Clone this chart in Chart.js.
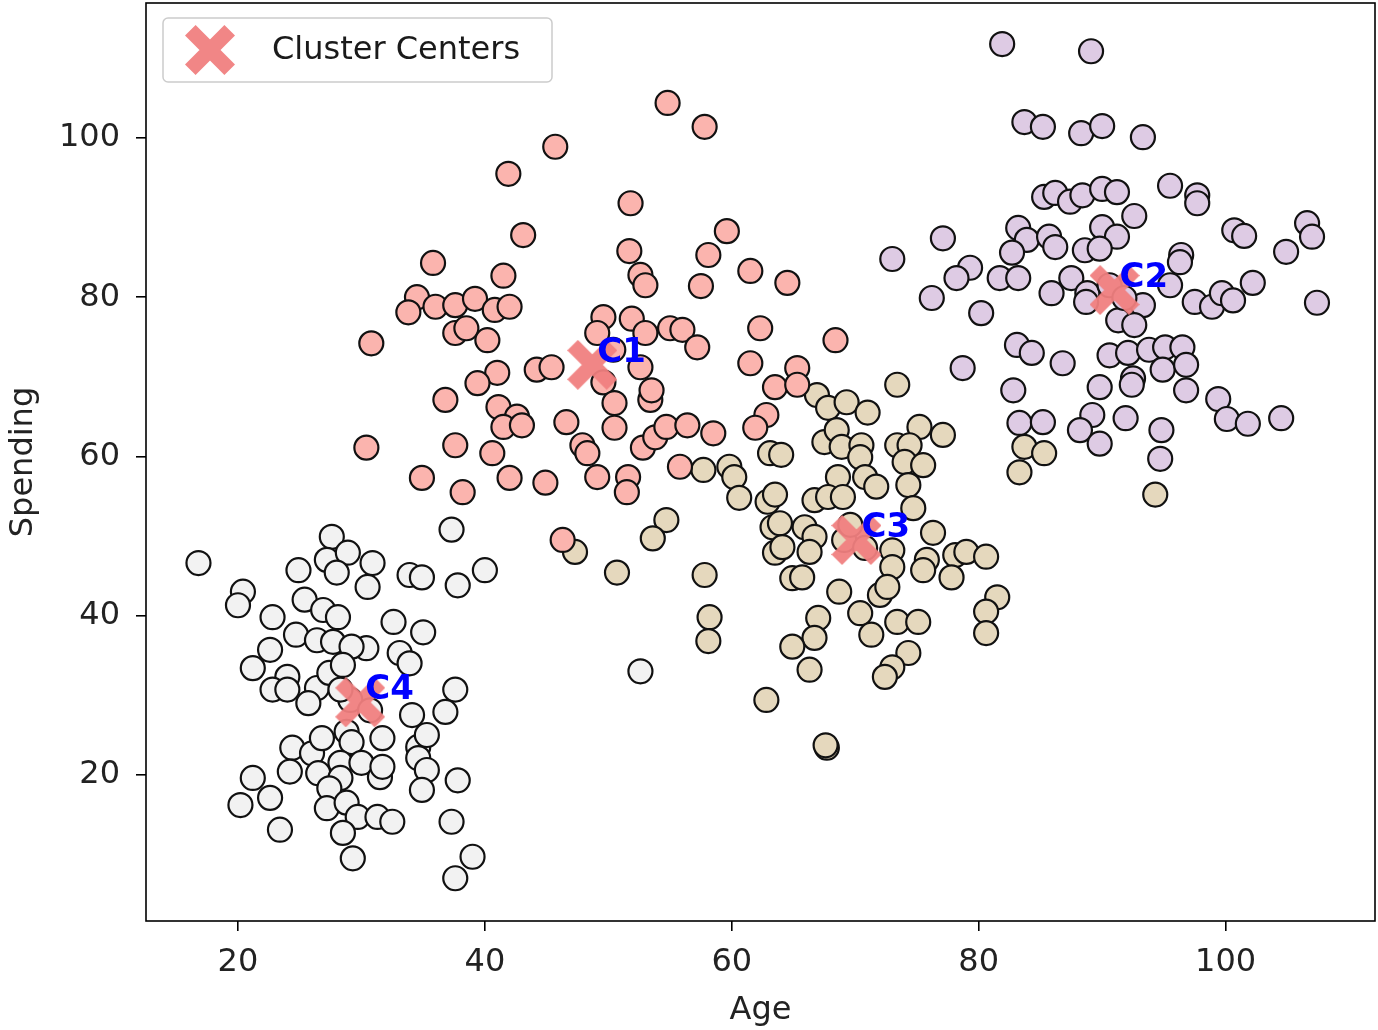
<!DOCTYPE html>
<html>
<head>
<meta charset="utf-8">
<script src="https://cdn.jsdelivr.net/npm/chart.js@4.4.1/dist/chart.umd.min.js"></script>
<style>
  html, body { margin: 0; padding: 0; background: #fff; }
  canvas { display: block; }
</style>
</head>
<body>
<canvas id="clusterChart" width="1378" height="1030"></canvas>
<script>
const FONT = '"DejaVu Sans", sans-serif';

// tick labels
const xTicks = [20, 40, 60, 80, 100];
const yTicks = [20, 40, 60, 80, 100];

// [age, spending] per cluster
const cluster1 = [
  [54.8,104.4],[57.8,101.4],[45.7,98.9],[41.9,95.5],[51.8,91.8],[43.1,87.8],[59.6,88.3],[51.7,85.8],
  [58.1,85.3],[41.5,82.7],[52.6,82.8],[53.0,81.5],[61.5,83.3],[57.5,81.4],[64.5,81.8],[35.8,84.3],
  [34.5,80.0],[33.8,78.1],[36.0,78.8],[37.6,79.0],[39.2,79.8],[40.8,78.4],[42.0,78.8],[37.6,75.5],
  [38.5,76.1],[30.8,74.2],[40.2,74.6],[49.6,77.5],[51.9,77.3],[55.0,76.1],[56.0,75.9],[57.2,73.7],
  [62.3,76.1],[49.1,75.5],[53.0,75.5],[68.4,74.6],[41.0,70.5],[39.4,69.2],[44.2,70.9],[45.4,71.2],
  [52.6,71.2],[50.4,73.4],[49.6,69.3],[50.5,66.7],[50.5,63.6],[53.4,67.1],[53.5,68.3],[41.1,66.2],
  [42.6,65.0],[41.5,63.7],[43.0,63.9],[46.6,64.3],[47.9,61.4],[48.3,60.4],[40.6,60.4],[42.0,57.3],
  [44.9,56.7],[49.1,57.4],[51.6,57.4],[51.5,55.5],[38.2,55.5],[52.8,61.1],[53.8,62.4],[54.7,63.7],
  [56.4,63.9],[58.5,62.9],[55.8,58.7],[61.5,71.7],[63.5,68.7],[62.8,65.2],[61.9,63.6],[65.3,71.1],
  [65.3,69.0],[46.3,49.5],[36.8,67.1],[30.4,61.1],[37.6,61.4],[34.9,57.3]
];
const cluster2 = [
  [81.9,111.8],[89.1,110.9],[83.7,102.0],[85.2,101.4],[88.3,100.6],[90.0,101.5],[93.3,100.1],[85.3,92.6],
  [86.2,93.1],[87.4,92.0],[88.4,92.8],[90.0,93.6],[91.2,93.2],[95.5,94.0],[97.7,92.8],[97.7,91.8],
  [92.6,90.2],[77.1,87.4],[73.0,84.8],[83.2,88.7],[83.9,87.2],[85.7,87.6],[86.2,86.3],[82.7,85.6],
  [79.3,83.7],[78.2,82.4],[81.7,82.4],[83.2,82.4],[87.5,82.4],[85.9,80.5],[76.2,79.9],[80.2,78.0],
  [90.0,88.8],[91.2,87.6],[88.6,85.9],[89.8,86.1],[96.4,85.3],[96.3,84.4],[100.7,88.4],[101.5,87.7],
  [104.9,85.7],[106.6,89.3],[107.0,87.6],[88.8,80.5],[88.7,79.4],[95.5,81.5],[93.3,79.0],[97.5,79.4],
  [98.9,78.8],[99.7,80.5],[100.6,79.6],[102.2,81.8],[107.4,79.3],[91.3,77.1],[92.6,76.5],[90.6,72.7],
  [92.1,73.0],[93.8,73.4],[95.1,73.7],[96.5,73.7],[86.8,71.7],[89.8,68.7],[92.5,69.8],[92.4,69.0],
  [94.9,70.9],[96.8,71.5],[96.8,68.3],[99.4,67.2],[100.1,64.7],[101.8,64.1],[104.5,64.8],[89.2,65.2],
  [88.2,63.3],[89.8,61.6],[91.9,64.8],[94.8,63.3],[94.7,59.7],[78.7,71.1],[83.1,74.0],[84.3,73.0],
  [82.8,68.3],[83.3,64.2],[85.2,64.3],[90.6,81.5],[91.8,79.9]
];
const cluster3 = [
  [57.7,58.3],[59.8,58.7],[60.2,57.4],[60.6,54.8],[63.1,60.4],[62.9,54.3],[63.5,55.2],[63.3,51.1],
  [63.5,47.9],[54.7,52.0],[53.6,49.7],[47.3,48.0],[50.7,45.4],[57.8,45.1],[58.2,39.8],[58.1,36.8],
  [62.8,29.4],[73.4,69.0],[66.9,67.7],[67.8,66.1],[69.3,66.8],[71.0,65.5],[83.7,61.2],[85.3,60.4],
  [83.3,58.0],[75.2,63.7],[77.1,62.7],[67.5,61.8],[68.5,63.3],[68.9,61.2],[64.0,60.2],[70.5,61.4],
  [70.4,59.9],[73.4,61.4],[74.4,61.4],[74.0,59.3],[75.5,58.9],[68.6,57.4],[70.8,57.4],[71.7,56.2],
  [74.3,56.4],[66.7,54.5],[67.8,54.9],[69.0,54.9],[74.7,53.5],[63.9,51.6],[65.9,51.1],[66.7,49.9],
  [64.1,48.6],[66.3,48.0],[76.3,50.4],[73.0,48.2],[73.0,46.1],[75.8,47.0],[75.5,45.7],[78.1,47.6],
  [79.0,48.0],[80.6,47.4],[77.8,44.8],[64.9,44.7],[65.7,44.8],[68.7,43.0],[72.0,42.6],[72.6,43.6],
  [81.5,42.3],[80.6,40.5],[67.0,39.7],[70.4,40.3],[73.4,39.2],[75.1,39.2],[66.7,37.2],[64.9,36.1],
  [66.3,33.2],[71.3,37.6],[74.3,35.3],[73.0,33.5],[72.4,32.3],[80.6,37.8],[67.7,23.4],[67.6,23.7],
  [94.3,55.2],[69.1,49.5],[70.8,48.5],[69.6,51.4]
];
const cluster4 = [
  [16.8,46.6],[27.6,49.9],[27.2,47.0],[28.9,47.9],[28.0,45.4],[24.9,45.7],[30.9,46.6],[30.5,43.6],
  [33.9,45.1],[34.9,44.8],[37.8,43.8],[40.0,45.7],[37.3,50.8],[20.4,43.0],[20.0,41.3],[22.8,39.8],
  [25.4,42.0],[26.9,40.7],[28.1,39.8],[24.7,37.6],[32.6,39.2],[35.0,37.9],[26.4,36.9],[27.7,36.7],
  [30.4,35.9],[29.2,36.1],[22.6,35.7],[21.2,33.4],[24.0,32.3],[22.8,30.7],[24.0,30.7],[26.4,30.9],
  [25.7,29.0],[27.4,32.8],[28.5,33.8],[33.1,35.3],[33.9,34.0],[34.1,27.5],[37.6,30.7],[36.8,27.9],
  [28.8,25.4],[29.2,24.1],[31.7,24.6],[24.4,23.4],[26.0,22.7],[26.8,24.6],[34.6,23.5],[35.3,25.0],
  [34.6,22.1],[35.3,20.6],[28.3,21.5],[30.0,21.5],[24.2,20.4],[26.5,20.2],[28.3,19.6],[31.5,19.7],
  [31.7,21.0],[21.2,19.6],[22.6,17.1],[20.2,16.2],[37.8,19.3],[34.9,18.1],[27.4,18.3],[27.2,15.8],
  [28.8,16.5],[29.7,14.7],[31.3,14.7],[32.5,14.1],[28.5,12.7],[23.4,13.1],[37.3,14.1],[29.3,9.5],
  [39.0,9.7],[37.6,7.0],[52.6,33.0],[29.1,29.4],[30.7,28.1],[28.3,30.7]
];

// cluster centres
const centerAge = [48.7, 91.0, 70.1, 29.9];
const centerSpending = [71.5, 80.9, 49.5, 29.1];
const centerLabels = ['C1', 'C2', 'C3', 'C4'];

const clusterColors = ['#fbb4ae', '#decbe4', '#e5d8bd', '#f2f2f2'];

// thick X marker like matplotlib's 'X'
function makeCross(size, color) {
    const c = document.createElement('canvas');
    c.width = c.height = size;
    const g = c.getContext('2d');
    const w = size * 0.3;
    const p = w / (2 * Math.SQRT2);
    g.strokeStyle = color;
    g.lineWidth = w;
    g.lineCap = 'butt';
    g.beginPath();
    g.moveTo(p, p); g.lineTo(size - p, size - p);
    g.moveTo(size - p, p); g.lineTo(p, size - p);
    g.stroke();
    return c;
}
const crossImg = makeCross(50, 'rgba(240,128,128,0.95)');

const toPoints = arr => arr.map(([x, y]) => ({ x, y }));

// frame round the plot area
const framePlugin = {
    id: 'frame',
    afterDatasetsDraw(chart) {
        const { ctx, chartArea: a } = chart;
        ctx.save();
        ctx.strokeStyle = '#000';
        ctx.lineWidth = 1.6;
        ctx.strokeRect(a.left, a.top, a.right - a.left, a.bottom - a.top);
        ctx.restore();
    }
};

// C1..C4 labels next to the centres
const centerTextPlugin = {
    id: 'centerText',
    afterDatasetsDraw(chart) {
        const { ctx, scales: { x, y } } = chart;
        ctx.save();
        ctx.font = 'bold 34px ' + FONT;
        ctx.fillStyle = '#0000ff';
        ctx.textAlign = 'left';
        ctx.textBaseline = 'alphabetic';
        centerLabels.forEach((t, i) => {
            ctx.fillText(t, x.getPixelForValue(centerAge[i]) + 5, y.getPixelForValue(centerSpending[i]) - 3);
        });
        ctx.restore();
    }
};

// legend box in the upper left corner
const legendPlugin = {
    id: 'legendBox',
    afterDraw(chart) {
        const { ctx, chartArea: a } = chart;
        const bx = a.left + 17, by = a.top + 15, bw = 389, bh = 64;
        ctx.save();
        ctx.fillStyle = 'rgba(255,255,255,0.8)';
        ctx.strokeStyle = '#cccccc';
        ctx.lineWidth = 1.5;
        ctx.beginPath();
        ctx.roundRect(bx, by, bw, bh, 5);
        ctx.fill();
        ctx.stroke();
        ctx.drawImage(crossImg, bx + 47 - 25, by + bh / 2 - 25);
        ctx.font = '32px ' + FONT;
        ctx.fillStyle = '#1a1a1a';
        ctx.textBaseline = 'middle';
        ctx.fillText('Cluster Centers', bx + 109, by + bh / 2 + 1);
        ctx.restore();
    }
};

const datasets = [{
    label: 'Cluster Centers',
    data: centerAge.map((x, i) => ({ x, y: centerSpending[i] })),
    pointStyle: crossImg,
    pointRadius: 25
}];
[cluster1, cluster2, cluster3, cluster4].forEach((pts, i) => {
    datasets.push({
        label: 'Cluster ' + (i + 1),
        data: toPoints(pts),
        backgroundColor: clusterColors[i],
        borderColor: '#111',
        borderWidth: 2.2,
        pointRadius: 12
    });
});

const tickFont = { family: FONT, size: 32 };

new Chart(document.getElementById('clusterChart'), {
    type: 'scatter',
    data: { datasets },
    options: {
        responsive: false,
        animation: false,
        layout: { autoPadding: false, padding: { top: 3, right: 3, left: 0, bottom: 0 } },
        plugins: {
            legend: { display: false },
            tooltip: { enabled: false }
        },
        scales: {
            x: {
                type: 'linear',
                min: 12.55,
                max: 112.1,
                afterBuildTicks: s => { s.ticks = xTicks.map(v => ({ value: v })); },
                afterFit: s => { s.height = 109; s.paddingLeft = 0; s.paddingRight = 0; },
                grid: { drawOnChartArea: false, drawTicks: true, tickLength: 10, color: '#000', lineWidth: 1.6 },
                border: { display: false },
                ticks: { font: tickFont, color: '#222', padding: 12, maxRotation: 0 },
                title: { display: true, text: 'Age', font: tickFont, color: '#222', padding: { top: 0, bottom: 0 } }
            },
            y: {
                type: 'linear',
                min: 1.63,
                max: 116.96,
                afterBuildTicks: s => { s.ticks = yTicks.map(v => ({ value: v })); },
                afterFit: s => { s.width = 146; s.paddingTop = 0; s.paddingBottom = 0; },
                grid: { drawOnChartArea: false, drawTicks: true, tickLength: 10, color: '#000', lineWidth: 1.6 },
                border: { display: false },
                ticks: { font: tickFont, color: '#222', padding: 16 },
                title: { display: true, text: 'Spending', font: tickFont, color: '#222', padding: { top: 4, bottom: 0 } }
            }
        }
    },
    plugins: [framePlugin, centerTextPlugin, legendPlugin]
});
</script>
</body>
</html>
